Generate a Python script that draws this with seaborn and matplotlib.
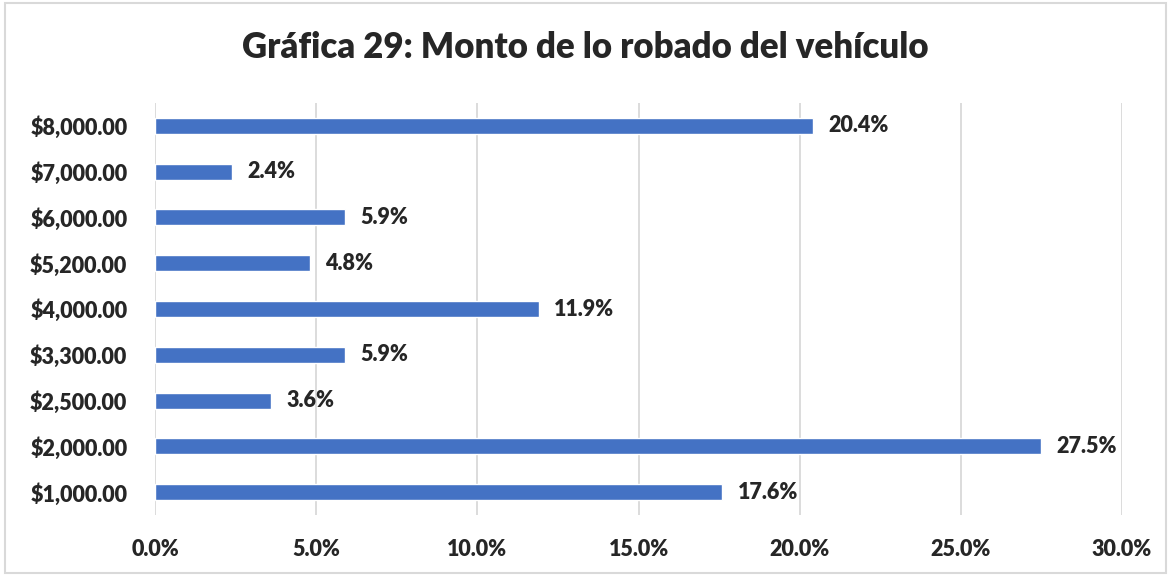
import numpy as np
import pandas as pd
import matplotlib
matplotlib.use("Agg")
import matplotlib.pyplot as plt
import seaborn as sns
from matplotlib.ticker import FuncFormatter

# datos
montos = ["$8,000.00", "$7,000.00", "$6,000.00", "$5,200.00", "$4,000.00",
          "$3,300.00", "$2,500.00", "$2,000.00", "$1,000.00"]
porcentajes = [20.4, 2.4, 5.9, 4.8, 11.9, 5.9, 3.6, 27.5, 17.6]
titulo = "Gráfica 29: Monto de lo robado del vehículo"

df = pd.DataFrame({"monto": montos, "pct": porcentajes})

sns.set_style("white")
plt.rcParams["font.family"] = ["Lato", "DejaVu Sans"]

fig = plt.figure(figsize=(11.71, 5.75), dpi=100)
ax = fig.add_axes([0.1324, 0.1043, 0.8258, 0.7166])

sns.barplot(data=df, x="pct", y="monto", order=montos, orient="h",
            color="#4472C4", saturation=1, width=0.35, ax=ax)

ax.set_xlim(0, 30)
ax.set_ylim(8.5, -0.5)
ax.set_xticks(np.arange(0, 31, 5))
ax.xaxis.set_major_formatter(FuncFormatter(lambda v, p: f"{v:.1f}%"))
ax.grid(axis="x", color="#D9D9D9", linewidth=1.3)
ax.grid(axis="y", visible=False)
ax.set_axisbelow(True)
for s in ax.spines.values():
    s.set_visible(False)
ax.tick_params(axis="both", length=0, labelsize=15.5)
ax.tick_params(axis="x", pad=17)
ax.tick_params(axis="y", pad=20)
for lab in ax.get_xticklabels() + ax.get_yticklabels():
    lab.set_fontweight("heavy")
ax.set_xlabel("")
ax.set_ylabel("")

for i, v in enumerate(porcentajes):
    ax.annotate(f"{v:.1f}%", xy=(v, i), xytext=(11, 0), textcoords="offset points",
                va="center", ha="left", fontsize=15.5, fontweight="heavy")

fig.text(0.5, 0.917, titulo, ha="center", va="center", fontsize=25, fontweight="heavy")

# marco del gráfico
fig.patches.append(plt.Rectangle((0.004, 0.004), 0.992, 0.99, transform=fig.transFigure,
                                 fill=False, edgecolor="#D9D9D9", linewidth=1.5))

fig.savefig("out.png", dpi=100)
